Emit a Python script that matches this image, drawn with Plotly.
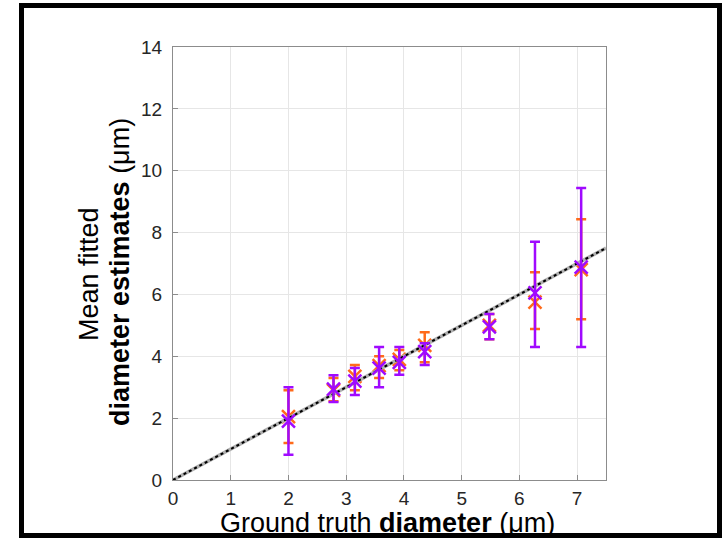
import plotly.graph_objects as go

# Ground truth diameters (um)
truth = [2.0, 2.78, 3.15, 3.57, 3.92, 4.36, 5.48, 6.27, 7.07]

# Series A (orange)
orange_mean = [2.05, 2.9, 3.35, 3.7, 3.9, 4.35, 5.0, 5.75, 6.8]
orange_hi = [2.9, 3.3, 3.72, 4.0, 4.2, 4.78, 5.37, 6.72, 8.43]
orange_lo = [1.2, 2.55, 2.9, 3.3, 3.55, 3.81, 4.55, 4.88, 5.2]

# Series B (purple)
purple_mean = [1.9, 2.94, 3.2, 3.62, 3.8, 4.15, 4.95, 6.05, 6.88]
purple_hi = [3.0, 3.39, 3.62, 4.3, 4.3, 4.42, 5.37, 7.7, 9.44]
purple_lo = [0.82, 2.52, 2.75, 3.0, 3.4, 3.72, 4.55, 4.3, 4.3]

identity_x = [0, 7.5]
identity_y = [0, 7.5]

x_ticks = [0, 1, 2, 3, 4, 5, 6, 7]
y_ticks = [0, 2, 4, 6, 8, 10, 12, 14]

x_title = "Ground truth <b>diameter</b> (μm)"
y_title_1 = "Mean fitted"
y_title_2 = "<b>diameter estimates</b> (μm)"

ORANGE = "#ff6a1a"
PURPLE = "#a00aff"
FONT = "Liberation Sans, Arial"

fig = go.Figure()

def add_series(mean, hi, lo, color, width):
    fig.add_trace(go.Scatter(
        x=truth, y=mean, mode="markers",
        marker=dict(symbol="x-thin", size=13, color=color,
                    line=dict(color=color, width=width)),
        error_y=dict(type="data", symmetric=False,
                     array=[h - m for h, m in zip(hi, mean)],
                     arrayminus=[m - l for m, l in zip(mean, lo)],
                     color=color, thickness=width, width=5),
        showlegend=False, hoverinfo="skip"))

add_series(orange_mean, orange_hi, orange_lo, ORANGE, 2.5)

fig.add_trace(go.Scatter(
    x=identity_x, y=identity_y, mode="lines",
    line=dict(color="#b0b0b0", width=3.5),
    showlegend=False, hoverinfo="skip"))
fig.add_trace(go.Scatter(
    x=identity_x, y=identity_y, mode="lines",
    line=dict(color="black", width=2, dash="dot"),
    showlegend=False, hoverinfo="skip"))

add_series(purple_mean, purple_hi, purple_lo, PURPLE, 2.5)

axis_common = dict(
    showgrid=True, gridcolor="#e6e6e6", gridwidth=1,
    showline=True, linecolor="#8c8c8c", linewidth=1, mirror=True,
    ticks="inside", ticklen=5, tickcolor="#8c8c8c",
    zeroline=False,
    tickfont=dict(family=FONT, size=19, color="#262626"),
)

L, T, W = 173, 47, 433

fig.update_layout(
    width=725, height=541,
    margin=dict(l=L, r=725 - L - W, t=T, b=541 - T - W),
    paper_bgcolor="white", plot_bgcolor="white",
    xaxis=dict(range=[0, 7.5], tickvals=x_ticks, ticklabelstandoff=1, **axis_common),
    yaxis=dict(range=[0, 14], tickvals=y_ticks, ticklabelstandoff=6, **axis_common),
    annotations=[
        dict(text=x_title, xref="paper", yref="paper",
             x=(387 - L) / W, y=(T + W - 507) / W, xanchor="center", yanchor="top",
             borderpad=0, showarrow=False, font=dict(family=FONT, size=27, color="black")),
        dict(text=y_title_1, xref="paper", yref="paper", textangle=-90,
             x=(89 - L) / W, y=(T + W - 274) / W, xanchor="center", yanchor="middle",
             showarrow=False, font=dict(family=FONT, size=27, color="black")),
        dict(text=y_title_2, xref="paper", yref="paper", textangle=-90,
             x=(120 - L) / W, y=(T + W - 272) / W, xanchor="center", yanchor="middle",
             showarrow=False, font=dict(family=FONT, size=27, color="black")),
    ],
    shapes=[dict(type="rect", xref="paper", yref="paper",
                 x0=(21.5 - L) / W, x1=(719.5 - L) / W,
                 y0=(T + W - 535.5) / W, y1=(T + W - 5.5) / W,
                 line=dict(color="black", width=5), layer="above")],
)

fig.write_html("out.html", config={"displayModeBar": False},
               post_script="document.body.style.margin='0';document.body.style.overflow='hidden';")
